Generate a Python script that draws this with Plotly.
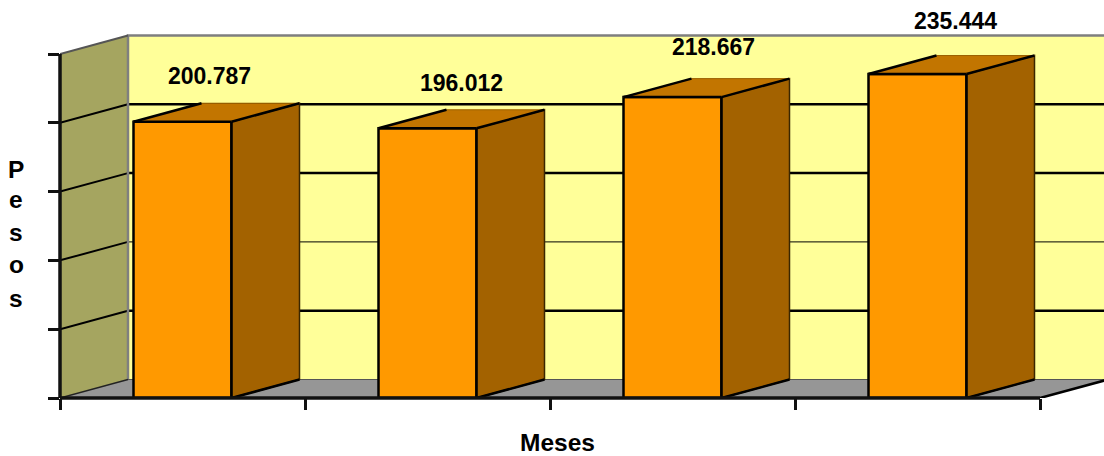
import plotly.graph_objects as go

# Monthly totals in pesos; the months themselves are not labelled on the axis
positions = [0, 1, 2, 3]
values = [200787, 196012, 218667, 235444]
y_ticks = [0, 50000, 100000, 150000, 200000, 250000]
x_ticks = [-0.5, 0.5, 1.5, 2.5, 3.5]
y_title_letters = ["P", "e", "s", "o", "s"]

# Label nudges in pixels, relative to the top of each bar's front face
label_xshift = [27, 34, 40.5, 37.5]
label_yshift = [45.5, 45.5, 50, 53]

# Page and scale setup
WIDTH, HEIGHT = 1104, 456
LEFT, BOTTOM = 60, 58
PX_PER_CAT = 245
PX_PER_UNIT = 68.8 / 50000
BAR_WIDTH = 0.4

# Oblique depth of the fake 3D projection, in data units
DX = 68 / PX_PER_CAT
DY = 18.5 / PX_PER_UNIT

X_MIN = x_ticks[0]
X_MAX = x_ticks[-1]
Y_TOP = y_ticks[-1]
x_range = [X_MIN, X_MIN + (WIDTH - LEFT) / PX_PER_CAT]
y_range = [0, (HEIGHT - BOTTOM) / PX_PER_UNIT]

YELLOW = "#FFFF99"
OLIVE = "#A5A560"
FLOOR = "#969696"
FRONT = "#FF9900"
SIDE = "#A36200"
TOP = "#C27500"
EDGE_GRAY = "#7F7F7F"
TITLE_SIZE = 24.5


def path(points):
    return "M " + " L ".join(f"{x},{y}" for x, y in points) + " Z"


def polyline(points, color="black", width=2):
    xs = [p[0] for p in points]
    ys = [p[1] for p in points]
    d = "M " + " L ".join(f"{x},{y}" for x, y in zip(xs, ys))
    return dict(type="path", path=d, xref="x", yref="y", layer="below",
                line=dict(color=color, width=width))


shapes = [
    # Back wall, side wall and floor of the box
    dict(type="path", xref="x", yref="y", layer="below", fillcolor=YELLOW,
         line=dict(width=0),
         path=path([(X_MIN + DX, DY), (x_range[1], DY),
                    (x_range[1], Y_TOP + DY), (X_MIN + DX, Y_TOP + DY)])),
    dict(type="path", xref="x", yref="y", layer="below", fillcolor=OLIVE,
         line=dict(width=0),
         path=path([(X_MIN, 0), (X_MIN + DX, DY),
                    (X_MIN + DX, Y_TOP + DY), (X_MIN, Y_TOP)])),
    dict(type="path", xref="x", yref="y", layer="below", fillcolor=FLOOR,
         line=dict(width=0),
         path=path([(X_MIN, 0), (X_MAX, 0), (X_MAX + DX, DY), (X_MIN + DX, DY)])),
]

# Gridlines wrap from the side wall onto the back wall
for v in y_ticks[1:-1]:
    width = 1 if v == 100000 else 2.5
    shapes.append(polyline([(X_MIN, v), (X_MIN + DX, v + DY)], "black", 2))
    shapes.append(polyline([(X_MIN + DX, v + DY), (x_range[1], v + DY)], "black", width))

# Box outlines
shapes += [
    polyline([(X_MIN + DX, DY), (X_MIN + DX, Y_TOP + DY), (x_range[1], Y_TOP + DY)], EDGE_GRAY, 2.5),
    polyline([(X_MIN, Y_TOP), (X_MIN + DX, Y_TOP + DY)], "#555555", 2),
    polyline([(X_MIN + DX, DY), (x_range[1], DY)], "#555555", 1),
    polyline([(X_MIN, 0), (X_MIN + DX, DY)], "#222222", 1.5),
    polyline([(X_MAX, 0), (X_MAX + DX, DY)], "black", 2.5),
    # Axis lines, pinned to the plot edges so they are not cut in half
    dict(type="line", xref="paper", yref="y", x0=0, x1=0, y0=0, y1=Y_TOP,
         line=dict(color="#111111", width=3.5)),
    dict(type="line", xref="x", yref="paper", x0=X_MIN, x1=X_MAX, y0=0, y1=0,
         line=dict(color="#111111", width=3.5)),
]

fig = go.Figure()
fig.add_trace(go.Bar(x=positions, y=values, width=BAR_WIDTH, showlegend=False,
                     marker=dict(color=FRONT, line=dict(color="black", width=2.5))))

for x, v in zip(positions, values):
    x0, x1 = x - BAR_WIDTH / 2, x + BAR_WIDTH / 2
    fig.add_trace(go.Scatter(
        x=[x1, x1 + DX, x1 + DX, x1, x1], y=[0, DY, v + DY, v, 0],
        mode="lines", fill="toself", fillcolor=SIDE,
        line=dict(color="#3A2600", width=1.5), showlegend=False))
    fig.add_trace(go.Scatter(
        x=[x0, x0 + DX, x1 + DX, x1, x0], y=[v, v + DY, v + DY, v, v],
        mode="lines", fill="toself", fillcolor=TOP,
        line=dict(color="#9A6000", width=1), showlegend=False))
    # Dark edges that sit over the faces
    fig.add_trace(go.Scatter(
        x=[x0, x0 + DX, None, x1, x1 + DX, None, x1, x1 + DX, None, x1, x1, None, x0, x1],
        y=[v, v + DY, None, v, v + DY, None, 0, DY, None, 0, v, None, v, v],
        mode="lines", line=dict(color="black", width=2.5), showlegend=False))

annotations = [
    dict(x=x, y=v, xref="x", yref="y", text=f"{v:,}".replace(",", "."),
         showarrow=False, xanchor="center", yanchor="middle",
         xshift=dx, yshift=dy)
    for x, v, dx, dy in zip(positions, values, label_xshift, label_yshift)
]

# Vertical axis title, one letter per row
for letter, ypx in zip(y_title_letters, [170, 200, 232, 264, 298]):
    annotations.append(dict(x=-44 / (WIDTH - LEFT), y=1 - ypx / (HEIGHT - BOTTOM),
                            xref="paper", yref="paper", text=letter, showarrow=False,
                            xanchor="center", yanchor="middle",
                            font=dict(size=TITLE_SIZE)))

annotations.append(dict(x=1.5, y=0, xref="x", yref="y", text="Meses", showarrow=False,
                        xanchor="center", yanchor="middle", xshift=7, yshift=-44,
                        font=dict(size=TITLE_SIZE)))

fig.update_layout(
    width=WIDTH, height=HEIGHT,
    margin=dict(l=LEFT, r=0, t=0, b=BOTTOM, pad=0),
    paper_bgcolor="white", plot_bgcolor="white",
    font=dict(family="Liberation Sans, Arial, sans-serif", size=23, color="black",
              weight="bold"),
    shapes=shapes, annotations=annotations, showlegend=False,
    xaxis=dict(range=x_range, tickvals=x_ticks, ticks="outside", ticklen=11,
               tickwidth=2.5, tickcolor="#111111", showticklabels=False,
               showgrid=False, zeroline=False, showline=False, fixedrange=True),
    yaxis=dict(range=y_range, tickvals=y_ticks, ticks="outside", ticklen=11,
               tickwidth=2.5, tickcolor="#111111", showticklabels=False,
               showgrid=False, zeroline=False, showline=False, fixedrange=True),
)

fig.write_html("out.html", config=dict(displayModeBar=False))
